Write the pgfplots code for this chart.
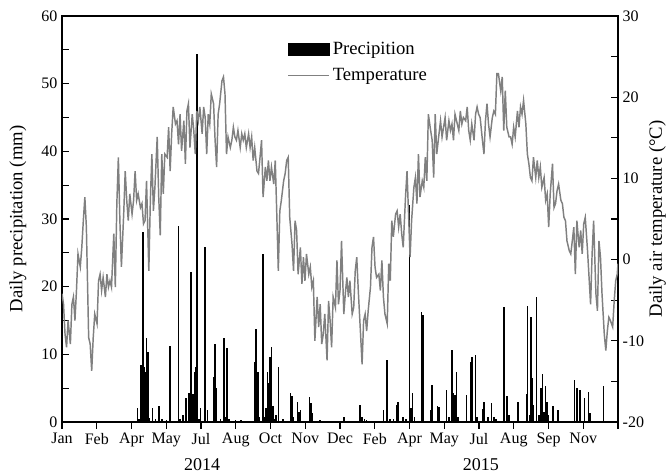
\documentclass[border=0pt]{standalone}
\usepackage{fontspec}
\setmainfont{Liberation Serif}
\usepackage{pgfplots}
\pgfplotsset{compat=1.18}
\definecolor{tgray}{RGB}{128,128,128}

\begin{document}
\begin{tikzpicture}
\begin{axis}[
  width=417pt, height=304.5pt, scale only axis,
  xmin=0, xmax=730, ymin=0, ymax=60,
  xtick={0,45.625,91.25,136.875,182.5,228.125,273.75,319.375,365,410.625,456.25,501.875,547.5,593.125,638.75,684.375,730},
  xticklabels={Jan,Feb,Apr,May,Jul,Aug,Oct,Nov,Dec,Feb,Apr,May,Jul,Aug,Sep,Nov,{}},
  xtick pos=bottom, ytick pos=left,
  xtick align=outside, ytick align=inside,
  ytick={0,10,...,60}, minor ytick={5,15,...,55},
  major tick length=5pt, minor tick length=5pt,
  tick style={black, line width=0.8pt},
  axis line style={line width=0.8pt},
  tick label style={font=\fontsize{12}{13}\selectfont},
  /pgf/number format/assume math mode=true,
]
\addplot[ycomb, black, line width=1.2pt, mark=none] coordinates {
(99,2.0) (101,0.5) (104,8.4) (106,28.1) (108,8.2) (109,7.4) (111,12.4) (113,10.4) (115,0.6)
(119,2.0) (123,0.4) (127,2.4) (131,0.4) (137,0.3) (142,11.3) (153,29.0) (155,0.4) (159,1.0)
(163,3.6) (167,4.3) (169,22.1) (172,4.2) (174,6.0) (175,7.4) (176,8.2) (177,54.4) (180,0.5)
(182,2.0) (187,23.7) (188,25.9) (191,1.8) (199,6.7) (201,11.5) (203,5.0) (208,0.4) (213,12.4)
(215,0.8) (217,10.9) (219,0.4) (228,0.3) (235,0.3) (243,0.2) (253,8.8) (255,13.8) (257,7.4)
(259,0.8) (264,24.9) (266,0.8) (268,2.0) (270,7.4) (271,5.7) (273,9.6) (275,11.1) (277,2.3)
(279,0.4) (281,1.0) (284,8.2) (290,0.4) (300,4.3) (302,3.8) (304,0.8) (309,2.9) (311,1.5)
(313,1.8) (325,3.7) (327,2.8) (329,1.3) (339,0.3)
(370,0.8) (391,2.5) (394,0.8) (397,0.5) (400,0.3) (422,1.8) (427,9.1) (431,0.5) (435,0.5)
(440,2.5) (441,3.0) (448,0.8) (452,0.5) (456,32.0) (458,2.0) (460,4.3) (463,0.8) (472,16.2)
(474,15.8) (484,1.7) (486,5.5) (493,2.3) (495,2.2) (505,4.8) (508,0.8) (512,10.7) (514,4.3)
(516,4.0) (518,7.4) (520,0.8) (531,4.0) (537,8.8) (538,9.6) (543,9.9) (545,0.8) (552,1.9)
(554,3.0) (559,0.8) (564,2.8) (567,0.8) (570,0.5) (580,17.0) (584,3.9) (585,2.5) (587,1.0)
(599,2.9) (610,4.1) (611,17.1) (614,1.0) (616,15.5) (617,6.5) (619,2.5) (623,18.4) (626,1.0)
(629,5.0) (631,7.1) (633,1.5) (635,5.3) (637,3.0) (639,1.0) (645,2.4) (651,1.8) (673,6.2)
(676,5.0) (680,4.7) (686,3.6) (691,4.5) (693,1.3) (711,5.3)
};
\coordinate (lc) at (rel axis cs:0,0.5);
\coordinate (rc) at (rel axis cs:1,0.5);
\coordinate (ll) at (rel axis cs:0,0);
\coordinate (ur) at (rel axis cs:1,1);
\coordinate (ya) at (axis cs:184,0);
\coordinate (yb) at (axis cs:550,0);
\end{axis}
\begin{axis}[
  width=417pt, height=304.5pt, scale only axis,
  xmin=0, xmax=730, ymin=-20, ymax=30,
  axis y line*=right, axis x line=none,
  ytick={-20,-10,...,30}, minor ytick={-15,-5,...,25},
  ytick align=inside,
  major tick length=5pt, minor tick length=5pt,
  tick style={black, line width=0.8pt},
  axis line style={line width=0.8pt},
  tick label style={font=\fontsize{12}{13}\selectfont},
  /pgf/number format/assume math mode=true,
  legend style={at={(rel axis cs:0.405,0.943)}, anchor=north west, draw=none, fill=none,
    font=\fontsize{14}{16}\selectfont, row sep=5pt, inner sep=0pt},
  legend cell align=left,
]
\addlegendimage{legend image code/.code={\fill[black] (0pt,-4.2pt) rectangle (31pt,4.2pt);}}
\addlegendentry{Precipition}
\addplot[tgray, line width=1.1pt, mark=none,
  legend image code/.code={\draw[tgray, line width=1pt] (0pt,0pt) -- (31pt,0pt);}] coordinates {
(0,-4.2) (2,-5.5) (4,-9.2) (6,-10.8) (8,-7.5) (11,-10.4) (13,-5.5) (15,-4.6) (17,-7.5) (19,-3.8)
(21,0.7) (24,-0.9) (26,1.5) (28,4.8) (30,7.7) (32,4.0) (35,-9.6) (37,-10.4) (39,-13.7) (41,-9.6)
(43,-6.7) (46,-7.9) (48,-2.6) (50,-1.8) (52,-3.8) (54,-2.2) (57,-4.6) (59,-1.8) (61,-3.4) (63,-2.6)
(65,-3.4) (68,3.2) (70,-3.4) (72,6.9) (74,12.6) (76,4.8) (78,-0.9) (81,5.6) (83,10.9) (85,7.3)
(87,4.8) (89,8.1) (92,5.6) (94,7.3) (96,10.9) (98,7.3) (100,8.1) (103,6.4) (105,6.9) (107,4.4)
(109,4.8) (111,9.7) (114,-1.4) (116,7.3) (118,13.0) (120,6.0) (122,8.9) (125,15.1) (127,7.7) (129,3.0)
(131,13.0) (133,8.1) (135,13.0) (138,12.6) (140,16.3) (142,10.9) (144,15.5) (146,18.8) (149,16.7) (151,17.1)
(153,14.2) (155,17.9) (157,13.4) (160,17.1) (162,11.8) (164,18.3) (166,19.2) (168,13.8) (171,17.9) (173,15.9)
(175,13.0) (177,18.3) (179,17.1) (181,18.8) (184,15.5) (186,18.8) (188,17.5) (190,13.0) (192,17.9) (194,16.7)
(196,20.4) (199,19.2) (201,14.7) (203,11.4) (205,17.9) (207,19.2) (210,22.0) (212,22.5) (214,20.4) (216,13.0)
(218,15.1) (221,13.8) (223,14.7) (225,16.3) (227,15.1) (229,14.7) (231,15.9) (234,13.8) (236,15.5) (238,14.7)
(240,15.5) (242,13.8) (245,15.5) (247,13.8) (249,15.1) (251,12.2) (253,13.8) (256,10.9) (258,10.6) (260,12.6)
(262,14.7) (264,7.7) (267,11.4) (269,9.7) (271,12.2) (273,9.7) (275,11.4) (278,9.3) (280,12.2) (282,5.6)
(284,-1.4) (286,6.0) (288,7.3) (291,9.7) (293,10.6) (295,12.2) (297,12.6) (299,5.2) (302,1.9) (304,-1.4)
(306,4.8) (308,3.6) (310,-1.8) (313,1.5) (315,-3.0) (317,0.3) (319,-2.6) (321,0.7) (324,-1.8) (326,-0.9)
(328,-3.4) (330,-2.6) (332,-10.0) (335,-4.6) (337,-8.3) (339,-5.5) (341,-10.4) (343,-9.2) (345,-6.7) (348,-12.4)
(350,-5.1) (352,-7.5) (354,-10.8) (356,-4.6) (359,-5.9) (361,-0.1) (363,-5.5) (365,-3.8) (367,2.3) (370,-6.7)
(372,-4.2) (374,-2.2) (376,-4.6) (378,-2.6) (381,-6.7) (383,-5.9) (385,-1.4) (387,0.3) (389,-3.8) (392,-9.2)
(394,-12.9) (396,-7.5) (398,-6.7) (400,-8.8) (402,-6.3) (405,-3.4) (407,1.5) (409,2.8) (411,-0.9) (413,-2.2)
(416,-1.8) (418,-3.8) (420,-0.1) (422,-4.6) (424,-6.7) (427,-7.9) (429,-0.5) (431,-2.6) (433,4.8) (435,2.8)
(438,5.6) (440,6.0) (442,4.0) (444,5.6) (446,3.2) (448,1.5) (451,7.7) (453,10.9) (455,5.6) (457,0.3)
(459,4.8) (462,8.9) (464,10.1) (466,6.9) (468,13.0) (470,7.7) (473,9.7) (475,8.9) (477,12.6) (479,9.7)
(481,17.9) (484,15.9) (486,14.7) (488,10.1) (490,17.9) (492,13.0) (495,15.5) (497,17.1) (499,15.1) (501,16.3)
(503,17.5) (505,14.7) (508,17.1) (510,15.9) (512,16.7) (514,14.7) (516,17.9) (519,16.7) (521,15.9) (523,18.3)
(525,16.7) (527,17.5) (530,17.1) (532,18.8) (534,15.9) (536,14.7) (538,16.7) (541,14.7) (543,17.9) (545,18.8)
(547,17.9) (549,17.5) (552,14.7) (554,13.0) (556,17.1) (558,19.2) (560,16.7) (562,15.1) (565,17.5) (567,18.3)
(569,17.9) (571,22.9) (573,22.9) (576,20.8) (578,22.5) (580,15.9) (582,20.8) (584,16.3) (587,15.1) (589,15.1)
(591,14.2) (593,16.3) (595,15.1) (598,18.3) (600,16.3) (602,18.8) (604,17.9) (606,19.6) (609,16.7) (611,13.0)
(613,11.8) (615,10.1) (617,9.7) (619,12.6) (622,10.1) (624,12.2) (626,10.1) (628,11.4) (630,8.9) (633,10.1)
(635,7.3) (637,8.1) (639,4.0) (641,8.1) (644,11.8) (646,6.4) (648,6.9) (650,8.5) (652,9.3) (655,7.3)
(657,6.9) (659,5.2) (661,4.8) (663,2.3) (666,1.1) (668,0.7) (670,2.3) (672,4.0) (674,-1.8) (676,4.8)
(679,1.5) (681,3.6) (683,0.7) (685,4.4) (687,5.2) (690,1.1) (692,-2.2) (694,-5.5) (696,0.7) (698,4.8)
(701,-4.2) (703,-6.3) (705,2.3) (707,0.3) (709,-4.2) (712,-9.2) (714,-11.2) (716,-8.8) (718,-7.1) (720,-7.5)
(723,-8.3) (725,-5.1) (727,-2.6) (729,-1.8) (730,-0.5)
};
\addlegendentry{Temperature}
\end{axis}
\node[rotate=90, font=\fontsize{14}{16}\selectfont] at ([xshift=-33pt]lc) {Daily precipitation (mm)};
\node[rotate=90, font=\fontsize{14}{16}\selectfont] at ([xshift=29.5pt]rc) {Daily air temperature (°C)};
\node[font=\fontsize{13.5}{15}\selectfont] at ([yshift=-32pt]ya) {2014};
\node[font=\fontsize{13.5}{15}\selectfont] at ([yshift=-32pt]yb) {2015};
\pgfresetboundingbox
\path ([xshift=-46.5pt,yshift=-38.25pt]ll) rectangle ([xshift=39pt,yshift=12pt]ur);
\end{tikzpicture}
\end{document}
